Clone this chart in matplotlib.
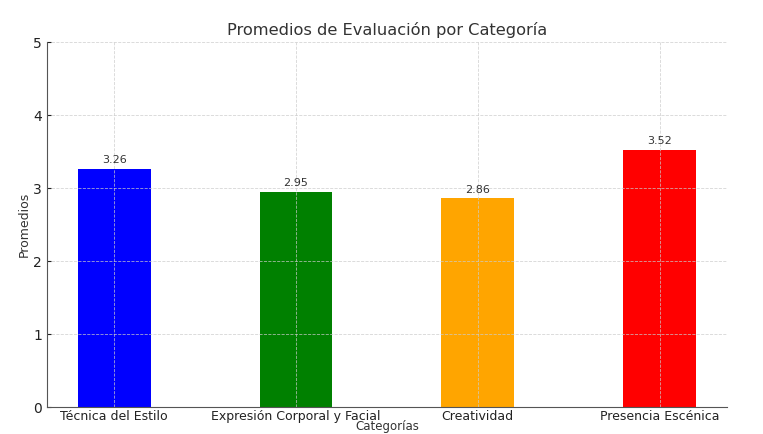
import matplotlib.pyplot as plt
import numpy as np

categorias = ['Técnica del Estilo', 'Expresión Corporal y Facial', 'Creatividad', 'Presencia Escénica']
promedios = [3.26, 2.95, 2.86, 3.52]
colores = ['blue', 'green', 'orange', 'red']

fig = plt.figure(figsize=(7.63, 4.34), dpi=100)
ax = fig.add_axes([0.0616, 0.062, 0.891, 0.841])

x = np.arange(len(categorias))
bars = ax.bar(x, promedios, width=0.4, color=colores)

for b, v in zip(bars, promedios):
    ax.text(b.get_x() + b.get_width() / 2, v + 0.05, f'{v:.2f}',
            ha='center', va='bottom', fontsize=8, color='#333333')

ax.set_xticks(x)
ax.set_xticklabels(categorias, fontsize=9, color='#222222')
ax.set_ylim(0, 5)
ax.set_yticks([0, 1, 2, 3, 4, 5])
ax.tick_params(axis='y', labelsize=10, colors='#222222', direction='in', length=3)
ax.tick_params(axis='x', length=0, pad=2)
ax.set_title('Promedios de Evaluación por Categoría', fontsize=11.7, color='#333333', pad=5)
ax.set_xlabel('Categorías', fontsize=8.5, color='#333333', labelpad=-2)
ax.set_ylabel('Promedios', fontsize=9, color='#333333', labelpad=2)

ax.grid(True, linestyle='--', linewidth=0.6, color='#cccccc', alpha=0.8)
for s in ['top', 'right']:
    ax.spines[s].set_visible(False)
for s in ['left', 'bottom']:
    ax.spines[s].set_color('#555555')

fig.savefig('out.png', dpi=100)
